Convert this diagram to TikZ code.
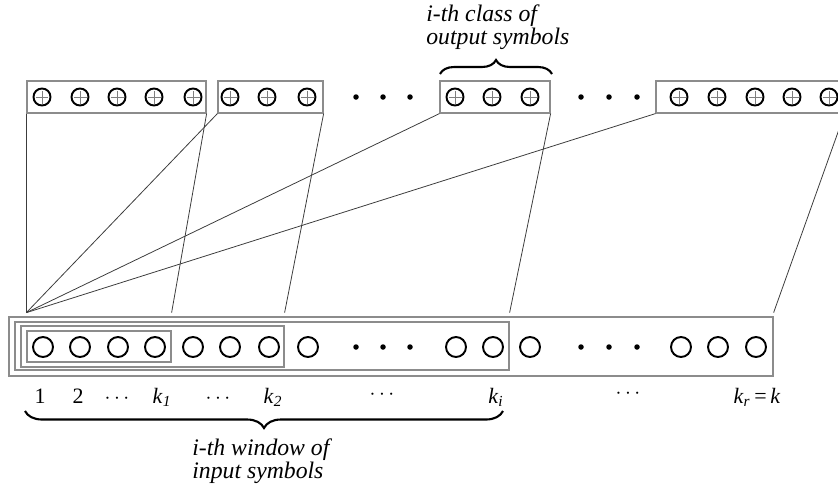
\documentclass[tikz,border=0pt]{standalone}
\usepackage{fontspec}
\setmainfont{Liberation Serif}
\usetikzlibrary{fit,calc,decorations.pathreplacing}
\definecolor{boxgray}{HTML}{8C8C8C}
\definecolor{linkgray}{HTML}{3C3C3C}
\newcommand\kidx[1]{\textit{k}\textsubscript{\textit{#1}}}
\tikzset{
  symbox/.style={draw=boxgray,line width=0.7pt,inner sep=0pt},
  insym/.style={circle,draw=black,line width=1.1pt,minimum size=4mm,inner sep=0pt},
  outsym/.style={circle,draw=black,line width=1.1pt,minimum size=3.4mm,inner sep=0pt,
    path picture={\draw[line width=0.3pt,gray]
      ($(path picture bounding box.center)+(-1.3mm,0)$) -- ++(2.6mm,0)
      ($(path picture bounding box.center)+(0,-1.3mm)$) -- ++(0,2.6mm);}},
  gapdot/.style={circle,fill=black,minimum size=1.1mm,inner sep=0pt},
  link/.style={draw=linkgray,line width=0.45pt},
  lab/.style={font=\fontsize{12.5}{14}\selectfont,anchor=base,inner sep=0pt},
  note/.style={font=\fontsize{13.5}{13}\selectfont\itshape,align=left,inner sep=0pt,anchor=base west},
  curly/.style={decorate,decoration={brace,amplitude=#1},line width=1.2pt}
}

\begin{document}
\begin{tikzpicture}[x=0.02cm,y=-0.02cm]
  \useasboundingbox (0,0) rectangle (838,491);
  \node[symbox,fit={(27,81) (206,113)}] (cls1) {};
  \node[symbox,fit={(218,81) (323,113)}] (cls2) {};
  \node[symbox,fit={(440,81) (550,113)}] (cls3) {};
  \node[symbox,fit={(656,81) (844,113)}] (cls4) {};
  \foreach \x [count=\i] in {42,80,117,154,193} \node[outsym] (a\i) at (\x,97) {};
  \foreach \x [count=\i] in {230,267,307} \node[outsym] (b\i) at (\x,97) {};
  \foreach \x [count=\i] in {455,492,530} \node[outsym] (c\i) at (\x,97) {};
  \foreach \x [count=\i] in {679,717,755,792,829} \node[outsym] (d\i) at (\x,97) {};
  \foreach \x [count=\i] in {356,383,410,581,609,637} \node[gapdot] (p\i) at (\x,97) {};

  \node[symbox,fit={(9,317) (773,376)}] (inbox) {};
  \node[symbox,fit={(15,322) (509,370)}] (win3) {};
  \node[symbox,fit={(21,326) (284,367)}] (win2) {};
  \node[symbox,fit={(27,331) (171,362)}] (win1) {};
  \foreach \x [count=\i] in {43,80,118,155,193,230,269,308,456,493,530,681,718,756} \node[insym] (s\i) at (\x,347) {};
  \foreach \x [count=\i] in {356,383,410,581,609,637} \node[gapdot] (q\i) at (\x,347) {};

  \coordinate (fan) at ($(cls1.south west)+(0,199)$);
  \draw[link] (cls1.south west) -- (fan);
  \draw[link] (cls2.south west) -- (fan);
  \draw[link] (cls3.south west) -- (fan);
  \draw[link] (cls4.south west) -- (fan);
  \draw[link] (cls1.south east) -- (win1.east |- fan);
  \draw[link] (cls2.south east) -- (win2.east |- fan);
  \draw[link] (cls3.south east) -- (win3.east |- fan);
  \draw[link] (cls4.south east) -- (inbox.east |- fan);

  \node[lab] (n1) at (40,403) {1};
  \node[lab] (n2) at (78,403) {2};
  \node[lab] (g1) at (117,403) {$\cdots$};
  \node[lab] (k1) at (162,403) {\kidx{1}};
  \node[lab] (g2) at (218,403) {$\cdots$};
  \node[lab] (k2) at (273,403) {\kidx{2}};
  \node[lab] (g3) at (382,399) {$\cdots$};
  \node[lab] (ki) at (496,403) {\kidx{i}};
  \node[lab] (g4) at (628,398) {$\cdots$};
  \node[lab] (kr) at (757,403) {\kidx{r}\,=\,\textit{k}};

  \draw[curly=0.28cm] (440,74) -- (552,74);
  \draw[curly=0.34cm] (503,411) -- (25,411);
  \node[note] (clsnote) at (426,44) {i-th class of\\output symbols};
  \node[note] (winnote) at (192,478) {i-th window of\\input symbols};
\end{tikzpicture}
\end{document}
